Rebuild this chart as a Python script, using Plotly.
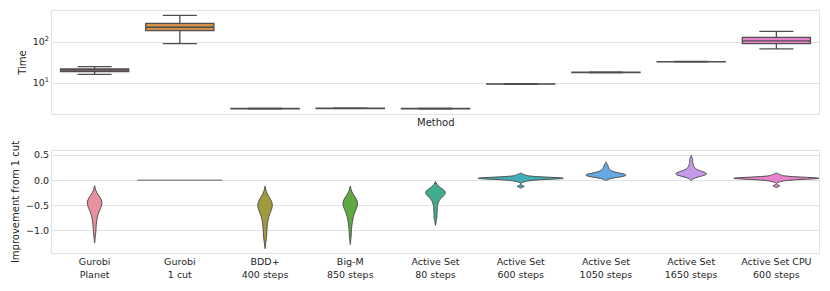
import plotly.graph_objects as go
from plotly.subplots import make_subplots

methods = ["Gurobi<br>Planet", "Gurobi<br>1 cut", "BDD+<br>400 steps", "Big-M<br>850 steps",
           "Active Set<br>80 steps", "Active Set<br>600 steps", "Active Set<br>1050 steps",
           "Active Set<br>1650 steps", "Active Set CPU<br>600 steps"]

# Top panel: time box statistics (seconds)
time_lowerfence = [16.3, 91, 2.30, 2.36, 2.30, 9.25, 17.8, 32.5, 67.6]
time_q1 = [19.0, 189, 2.33, 2.39, 2.33, 9.36, 18.0, 32.8, 91]
time_median = [20.7, 229, 2.36, 2.42, 2.36, 9.46, 18.2, 33.1, 107]
time_q3 = [22.0, 286, 2.39, 2.45, 2.39, 9.56, 18.4, 33.4, 130]
time_upperfence = [25.0, 448, 2.42, 2.48, 2.42, 9.67, 18.6, 33.7, 182]

# Bottom panel: improvement from 1 cut (samples per method)
imp_planet = [-0.31, -0.34, -0.37, -0.39, -0.41, -0.43, -0.45, -0.47, -0.49, -0.52,
              -0.55, -0.59, -0.64, -0.70, -0.78, -0.90, -1.04]
imp_1cut = [0.0, 0.0, 0.0, 0.0, 0.0, 0.0, 0.0, 0.0, 0.0, 0.0]
imp_bdd = [-0.32, -0.36, -0.40, -0.43, -0.46, -0.48, -0.50, -0.52, -0.55, -0.58,
           -0.62, -0.67, -0.73, -0.80, -0.90, -1.02, -1.15]
imp_bigm = [-0.32, -0.35, -0.38, -0.41, -0.43, -0.45, -0.47, -0.49, -0.52, -0.55,
            -0.59, -0.64, -0.70, -0.78, -0.88, -1.07]
imp_as80 = [-0.17, -0.19, -0.21, -0.22, -0.23, -0.24, -0.25, -0.26, -0.28, -0.30,
            -0.33, -0.37, -0.43, -0.52, -0.63, -0.75]
imp_as600 = [-0.12, -0.02, 0.0, 0.01, 0.02, 0.025, 0.03, 0.03, 0.035, 0.035, 0.04, 0.04,
             0.04, 0.045, 0.045, 0.05, 0.05, 0.055, 0.06, 0.07, 0.08, 0.11]
imp_as1050 = [0.07, 0.075, 0.08, 0.085, 0.09, 0.095, 0.10, 0.10, 0.105, 0.11, 0.115,
              0.12, 0.13, 0.14, 0.16, 0.19, 0.23, 0.29]
imp_as1650 = [0.08, 0.09, 0.10, 0.11, 0.115, 0.12, 0.125, 0.13, 0.135, 0.14, 0.15,
              0.16, 0.17, 0.19, 0.22, 0.26, 0.32, 0.41]
imp_cpu = [-0.11, -0.02, 0.0, 0.01, 0.02, 0.025, 0.03, 0.03, 0.035, 0.035, 0.04, 0.04,
           0.04, 0.045, 0.045, 0.05, 0.05, 0.055, 0.06, 0.07, 0.08, 0.11]
improvements = [imp_planet, imp_1cut, imp_bdd, imp_bigm, imp_as80, imp_as600,
                imp_as1050, imp_as1650, imp_cpu]

# Styles
colors = ["#e8919f", "#d39048", "#a09c3e", "#5fa844", "#44ac8e", "#41aeb5",
          "#64a9e2", "#c49ae9", "#e783c9"]
violin_widths = [0.17, 1.0, 0.17, 0.17, 0.23, 1.0, 0.47, 0.36, 1.0]
violin_bw = [0.1, 0.05, 0.1, 0.1, 0.07, 0.016, 0.035, 0.04, 0.016]
edge = "#4f4f4f"
grid = "#e3e3e3"
font = "DejaVu Sans"
txt = "#262626"

fig = make_subplots(rows=2, cols=1, shared_xaxes=False, vertical_spacing=0.0)

for i, m in enumerate(methods):
    fig.add_trace(go.Box(
        x=[m], q1=[time_q1[i]], median=[time_median[i]], q3=[time_q3[i]],
        lowerfence=[time_lowerfence[i]], upperfence=[time_upperfence[i]],
        fillcolor=colors[i], line=dict(color=edge, width=1.3), width=0.8,
        whiskerwidth=0.5, boxpoints=False, showlegend=False, hoverinfo="skip"),
        row=1, col=1)

for i, m in enumerate(methods):
    vals = improvements[i]
    if max(vals) == min(vals):
        fig.add_trace(go.Box(
            x=[m], q1=[vals[0]], median=[vals[0]], q3=[vals[0]],
            lowerfence=[vals[0]], upperfence=[vals[0]],
            fillcolor="#909090", line=dict(color="#909090", width=1.6), width=1.0,
            whiskerwidth=0, boxpoints=False, showlegend=False, hoverinfo="skip"),
            row=2, col=1)
    else:
        fig.add_trace(go.Violin(
            x=[m] * len(vals), y=vals, width=violin_widths[i], bandwidth=violin_bw[i],
            spanmode="soft", scalemode="width", points=False,
            box_visible=False, meanline_visible=False,
            fillcolor=colors[i], line=dict(color=edge, width=1.0), opacity=1,
            showlegend=False, hoverinfo="skip"),
            row=2, col=1)

# The page body adds an 8px offset on the left and top; the figure is sized to fit.
W, H = 822, 283
ml, mr, mt, mb = 44, 11, 3, 38
ph = H - mt - mb
top_dom = [(H - mb - 106) / ph, 1.0]
bot_dom = [0.0, (H - mb - 143) / ph]

axis_common = dict(showline=True, linecolor=grid, linewidth=1, mirror=True,
                   ticks="", automargin=False,
                   tickfont=dict(family=font, size=9.5, color=txt))

fig.update_xaxes(type="category", categoryorder="array", categoryarray=methods,
                 range=[-0.5, 8.5], showgrid=False, zeroline=False, **axis_common)
fig.update_xaxes(showticklabels=False, row=1, col=1)
fig.update_yaxes(showgrid=True, gridcolor=grid, gridwidth=1, zeroline=False, **axis_common)

fig.update_layout(
    xaxis=dict(domain=[0, 1]),
    yaxis=dict(domain=top_dom, type="log", range=[0.244, 2.756],
               tickvals=[10, 100], ticktext=["10<sup>1</sup>", "10<sup>2</sup>"],
               title=dict(text="Time", font=dict(family=font, size=10, color=txt),
                          standoff=4)),
    yaxis2=dict(domain=bot_dom, range=[-1.44, 0.58], tickvals=[-1.0, -0.5, 0.0, 0.5],
                tickformat=".1f",
                title=dict(text="Improvement from 1 cut",
                           font=dict(family=font, size=10, color=txt), standoff=4)),
    width=W, height=H,
    margin=dict(l=ml, r=mr, t=mt, b=mb),
    paper_bgcolor="white", plot_bgcolor="white",
    showlegend=False,
    font=dict(family=font, color=txt),
    annotations=[dict(text="Method", xref="paper", yref="paper", x=0.5,
                      y=top_dom[0], yshift=-1, xanchor="center", yanchor="top",
                      showarrow=False, font=dict(family=font, size=10, color=txt))],
)

fig.write_html("out.html")
